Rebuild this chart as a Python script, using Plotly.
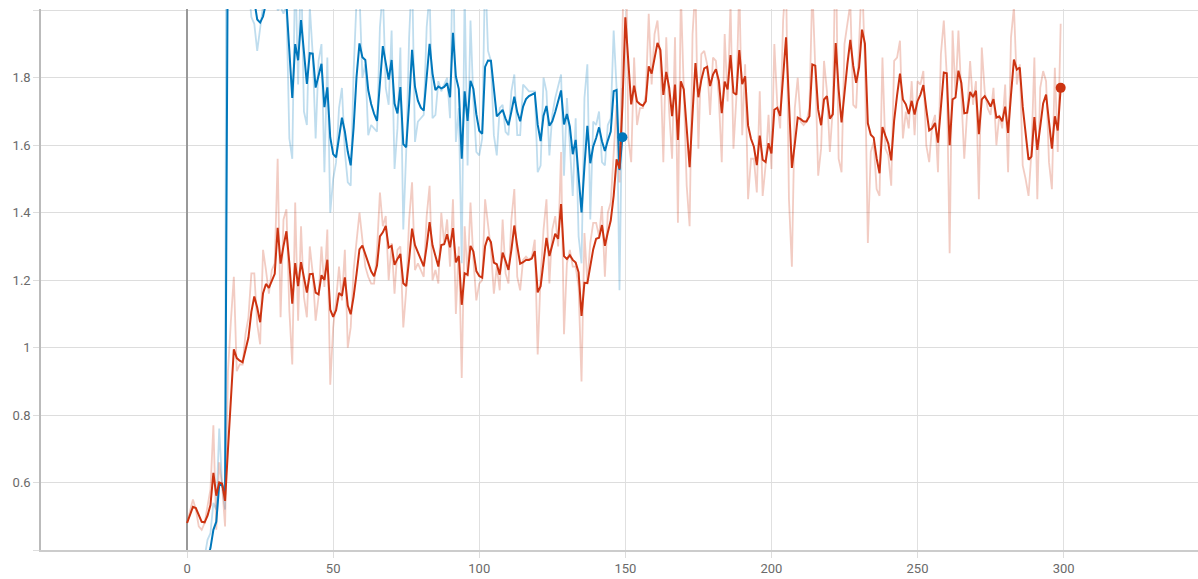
import plotly.graph_objects as go

# ---------------- data ----------------
blue_steps = list(range(150))
blue_raw = [
    0.10, 0.20, 0.24, 0.28, 0.32, 0.36, 0.38, 0.43, 0.45, 0.54,
    0.52, 0.76, 0.59, 0.52, 4.91, 2.80, 2.38, 2.33, 2.15, 2.18,
    2.13, 2.08, 1.98, 1.96, 1.88, 1.95, 2.01, 2.08, 2.12, 2.11,
    2.13, 2.00, 2.01, 1.99, 2.02, 1.62, 1.56, 2.14, 1.78, 2.15,
    1.70, 1.66, 2.01, 1.87, 1.62, 1.85, 1.90, 1.52, 1.86, 1.40,
    1.50, 1.55, 1.71, 1.77, 1.58, 1.49, 1.48, 1.82, 2.03, 2.05,
    1.80, 1.84, 1.63, 1.66, 1.65, 1.64, 1.95, 2.06, 1.77, 1.72,
    1.94, 1.53, 1.65, 1.89, 1.35, 1.58, 1.92, 2.12, 1.61, 1.67,
    1.68, 1.69, 1.95, 2.05, 1.68, 1.69, 1.79, 1.76, 1.78, 1.80,
    1.68, 2.22, 1.61, 1.71, 1.25, 2.06, 1.54, 1.97, 1.73, 1.58,
    1.57, 1.62, 2.13, 1.88, 1.85, 1.63, 1.57, 1.71, 1.72, 1.64,
    1.63, 1.76, 1.81, 1.63, 1.63, 1.78, 1.77, 1.76, 1.76, 1.76,
    1.52, 1.54, 1.80, 1.76, 1.57, 1.69, 1.74, 1.78, 1.81, 1.51,
    1.74, 1.60, 1.45, 1.68, 1.33, 1.25, 1.74, 1.84, 1.38, 1.67,
    1.66, 1.70, 1.55, 1.54, 1.66, 1.68, 1.94, 1.77, 1.17, 1.77,
]

red_steps = list(range(300))
red_raw = [
    0.48, 0.52, 0.55, 0.52, 0.47, 0.46, 0.48, 0.53, 0.58, 0.77,
    0.46, 0.66, 0.59, 0.47, 0.93, 1.08, 1.21, 0.93, 0.95, 0.95,
    1.04, 1.09, 1.22, 1.22, 1.07, 1.01, 1.29, 1.23, 1.16, 1.23,
    1.25, 1.56, 1.09, 1.38, 1.41, 1.11, 0.95, 1.43, 1.08, 1.36,
    1.15, 1.09, 1.30, 1.22, 1.08, 1.15, 1.30, 1.18, 1.35, 0.89,
    1.06, 1.14, 1.24, 1.14, 1.29, 1.00, 1.06, 1.23, 1.32, 1.40,
    1.32, 1.24, 1.21, 1.19, 1.19, 1.29, 1.46, 1.36, 1.39, 1.20,
    1.31, 1.16, 1.29, 1.30, 1.06, 1.17, 1.38, 1.49, 1.23, 1.25,
    1.23, 1.21, 1.39, 1.48, 1.20, 1.23, 1.19, 1.40, 1.31, 1.38,
    1.24, 1.44, 1.10, 1.30, 0.91, 1.36, 1.21, 1.43, 1.26, 1.14,
    1.19, 1.20, 1.44, 1.37, 1.29, 1.16, 1.24, 1.17, 1.38, 1.22,
    1.19, 1.38, 1.47, 1.21, 1.17, 1.26, 1.27, 1.26, 1.27, 1.32,
    0.98, 1.21, 1.35, 1.44, 1.19, 1.35, 1.39, 1.30, 1.58, 1.04,
    1.25, 1.29, 1.24, 1.24, 1.18, 0.90, 1.34, 1.19, 1.31, 1.37,
    1.37, 1.33, 1.42, 1.21, 1.40, 1.43, 1.56, 1.72, 1.49, 2.00,
    2.37, 1.62, 1.55, 1.86, 1.66, 1.71, 1.71, 1.75, 1.99, 1.78,
    1.93, 1.97, 1.85, 1.55, 1.92, 1.70, 1.56, 1.92, 1.37, 2.05,
    1.73, 1.48, 1.36, 1.93, 2.07, 1.59, 1.87, 1.88, 1.84, 1.69,
    1.86, 1.85, 1.74, 1.55, 1.93, 1.73, 2.02, 1.59, 1.74, 2.08,
    1.63, 1.84, 1.44, 1.56, 1.56, 1.46, 1.76, 1.45, 1.54, 1.69,
    1.53, 1.90, 1.72, 1.65, 1.97, 2.10, 1.44, 1.24, 1.71, 1.80,
    1.67, 1.66, 1.67, 1.71, 2.07, 1.83, 1.51, 1.59, 1.85, 1.76,
    1.58, 1.71, 2.22, 1.56, 1.52, 1.90, 1.96, 2.02, 1.72, 1.71,
    1.90, 2.11, 1.84, 1.31, 1.58, 1.61, 1.47, 1.45, 1.86, 1.59,
    1.57, 1.48, 1.85, 1.86, 1.91, 1.62, 1.70, 1.65, 1.79, 1.63,
    1.79, 1.78, 1.82, 1.60, 1.55, 1.66, 1.69, 1.52, 1.87, 1.97,
    1.81, 1.28, 1.94, 1.75, 1.94, 1.73, 1.56, 1.70, 1.85, 1.72,
    1.79, 1.44, 1.89, 1.76, 1.71, 1.69, 1.77, 1.60, 1.69, 1.65,
    1.78, 1.52, 1.92, 2.01, 1.78, 1.84, 1.54, 1.50, 1.45, 1.58,
    1.86, 1.44, 1.77, 1.82, 1.79, 1.55, 1.47, 1.83, 1.58, 1.96,
]

x_tick_vals = [0, 50, 100, 150, 200, 250, 300]
x_tick_text = ["0", "50", "100", "150", "200", "250", "300"]
y_tick_vals = [0.4, 0.6, 0.8, 1.0, 1.2, 1.4, 1.6, 1.8, 2.0]
y_tick_text = ["", "0.6", "0.8", "1", "1.2", "1.4", "1.6", "1.8", ""]

SMOOTHING = 0.6  # TensorBoard-style exponential moving average weight


def tb_smooth(values, weight):
    out, last = [], 0.0
    for i, v in enumerate(values):
        last = last * weight + (1 - weight) * v
        out.append(last / (1 - weight ** (i + 1)))
    return out


blue_smooth = tb_smooth(blue_raw, SMOOTHING)
red_smooth = tb_smooth(red_raw, SMOOTHING)

BLUE = "#0077bb"
RED = "#cc3311"
BLUE_LIGHT = "rgba(0,119,187,0.25)"
RED_LIGHT = "rgba(204,51,17,0.25)"

fig = go.Figure()
fig.add_trace(go.Scatter(x=blue_steps, y=blue_raw, mode="lines",
                         line=dict(color=BLUE_LIGHT, width=1.8), hoverinfo="skip"))
fig.add_trace(go.Scatter(x=red_steps, y=red_raw, mode="lines",
                         line=dict(color=RED_LIGHT, width=1.8), hoverinfo="skip"))
fig.add_trace(go.Scatter(x=blue_steps, y=blue_smooth, mode="lines",
                         line=dict(color=BLUE, width=2)))
fig.add_trace(go.Scatter(x=red_steps, y=red_smooth, mode="lines",
                         line=dict(color=RED, width=2)))
fig.add_trace(go.Scatter(x=[blue_steps[-1]], y=[blue_smooth[-1]], mode="markers",
                         marker=dict(color=BLUE, size=10)))
fig.add_trace(go.Scatter(x=[red_steps[-1]], y=[red_smooth[-1]], mode="markers",
                         marker=dict(color=RED, size=10)))

fig.update_layout(
    width=1198, height=579,
    margin=dict(l=41, r=0, t=9, b=29, pad=0),
    paper_bgcolor="white", plot_bgcolor="white",
    showlegend=False,
    font=dict(family="Roboto, sans-serif", size=13, color="#6a6a6a"),
)
fig.update_xaxes(
    range=[-50, 346], tickvals=x_tick_vals, ticktext=x_tick_text,
    showgrid=True, gridcolor="#e0e0e0", gridwidth=1,
    zeroline=True, zerolinecolor="#999999", zerolinewidth=1.5,
    showline=True, linecolor="#cccccc", linewidth=1.5,
    ticks="outside", ticklen=6, tickcolor="#dddddd",
    automargin=False,
)
fig.update_yaxes(
    range=[0.4, 2.004], tickvals=y_tick_vals, ticktext=y_tick_text,
    showgrid=True, gridcolor="#dddddd", gridwidth=1,
    zeroline=False,
    showline=True, linecolor="#bbbbbb", linewidth=1.5,
    ticks="outside", ticklen=6, tickcolor="#dddddd",
    automargin=False,
)

fig.write_html(
    "out.html",
    config={"displayModeBar": False},
    post_script="document.body.style.margin='0';document.body.style.overflow='hidden';",
)
